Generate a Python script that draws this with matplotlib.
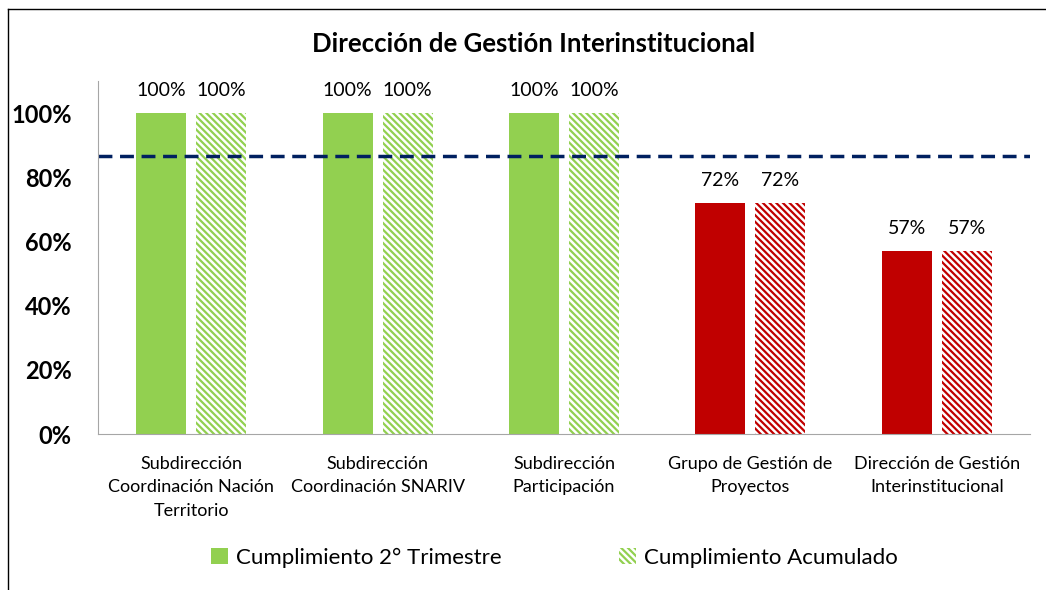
import matplotlib.pyplot as plt
from matplotlib.lines import Line2D
from matplotlib.patches import Patch
import numpy as np

plt.rcParams['font.family'] = ['Lato', 'DejaVu Sans']
plt.rcParams['hatch.linewidth'] = 1.6

categories = [
    "Subdirección\nCoordinación Nación\nTerritorio",
    "Subdirección\nCoordinación SNARIV",
    "Subdirección\nParticipación",
    "Grupo de Gestión de\nProyectos",
    "Dirección de Gestión\nInterinstitucional",
]
trimestre = [1.00, 1.00, 1.00, 0.72, 0.57]
acumulado = [1.00, 1.00, 1.00, 0.72, 0.57]
meta = 0.866
series_names = ["Cumplimiento 2° Trimestre", "Cumplimiento Acumulado"]

green = "#92D050"
red = "#C00000"
colors = [green if v >= meta else red for v in trimestre]
hatch = "\\" * 5

fig = plt.figure(figsize=(10.46, 5.9), dpi=100)
ax = fig.add_axes([0.0937, 0.2644, 0.891, 0.5983])

x = np.arange(len(categories))
w = 0.268
off = 0.161

b1 = ax.bar(x - off, trimestre, w, color=colors, linewidth=0)
b2 = ax.bar(x + off, acumulado, w, color="white", edgecolor=colors,
            hatch=hatch, linewidth=0)

for bars, vals in [(b1, trimestre), (b2, acumulado)]:
    for b, v in zip(bars, vals):
        ax.text(b.get_x() + b.get_width() / 2, v + 0.045, f"{v:.0%}",
                ha="center", va="bottom", fontsize=14)

ax.axhline(meta, color="#002060", linestyle=(0, (4, 2.2)), linewidth=2.5)

ax.set_xlim(-0.5, len(categories) - 0.5)
ax.set_ylim(0, 1.1)
ax.set_yticks(np.arange(0, 1.01, 0.2))
ax.set_yticklabels([f"{t:.0%}" for t in np.arange(0, 1.01, 0.2)],
                   fontsize=17, fontweight="bold")
ax.set_xticks(x)
ax.set_xticklabels(categories, fontsize=13, va="top", linespacing=1.55)
ax.tick_params(axis="y", length=0, pad=19)
ax.tick_params(axis="x", length=0, pad=16)
for s in ["top", "right"]:
    ax.spines[s].set_visible(False)
for s in ["left", "bottom"]:
    ax.spines[s].set_color("#A6A6A6")

fig.suptitle("Dirección de Gestión Interinstitucional", x=0.51, y=0.945,
             fontsize=18.5, fontweight="bold")

handles = [
    Patch(facecolor=green, linewidth=0),
    Patch(facecolor="white", edgecolor=green, hatch=hatch, linewidth=0),
]
fig.legend(handles, series_names, loc="center", bbox_to_anchor=(0.53, 0.055),
           ncol=2, frameon=False, fontsize=16, columnspacing=5.3,
           handlelength=0.75, handleheight=0.75, handletextpad=0.35)

fig.add_artist(Line2D([8 / 1046, 8 / 1046], [0, 1 - 9 / 590], color="black",
                      linewidth=1, transform=fig.transFigure))
fig.add_artist(Line2D([8 / 1046, 1], [1 - 9 / 590, 1 - 9 / 590], color="black",
                      linewidth=1, transform=fig.transFigure))

fig.savefig("out.png", dpi=100)
